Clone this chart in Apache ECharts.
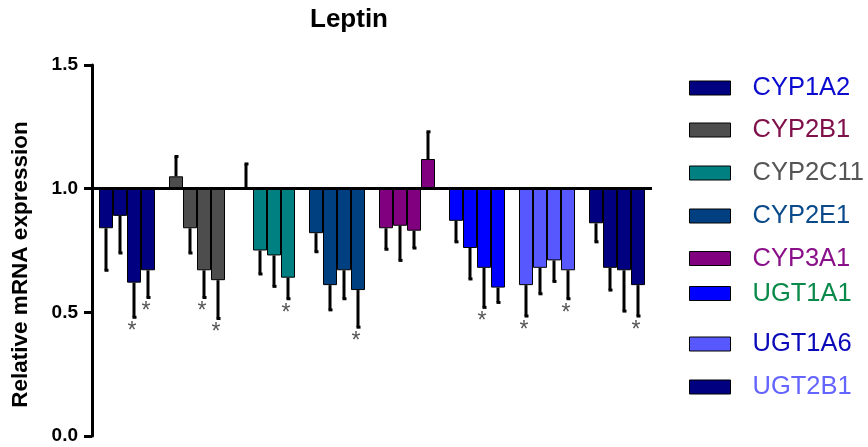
<!DOCTYPE html>
<html>
<head>
<meta charset="utf-8">
<script src="https://cdn.jsdelivr.net/npm/echarts@6/dist/echarts.min.js"></script>
<style>
  html, body { margin: 0; padding: 0; background: #fff; }
  #chart { width: 868px; height: 447px; }
</style>
</head>
<body>
<div id="chart"></div>
<script>
// Genes shown along the x axis, one group of four bars each
const genes = ['CYP1A2', 'CYP2B1', 'CYP2C11', 'CYP2E1', 'CYP3A1', 'UGT1A1', 'UGT1A6', 'UGT2B1'];

// Relative expression (control = 1.0), four bars per gene
const means = [
  [0.84, 0.89, 0.62, 0.67],
  [1.05, 0.84, 0.67, 0.63],
  [1.00, 0.75, 0.73, 0.64],
  [0.82, 0.61, 0.67, 0.59],
  [0.84, 0.85, 0.83, 1.12],
  [0.87, 0.76, 0.68, 0.60],
  [0.61, 0.68, 0.71, 0.67],
  [0.86, 0.68, 0.67, 0.61]
];

// One-sided error bars
const errors = [
  [0.17, 0.15, 0.14, 0.11],
  [0.08, 0.10, 0.11, 0.155],
  [0.10, 0.095, 0.125, 0.085],
  [0.075, 0.10, 0.115, 0.15],
  [0.085, 0.14, 0.07, 0.11],
  [0.085, 0.125, 0.16, 0.06],
  [0.125, 0.105, 0.085, 0.115],
  [0.075, 0.09, 0.165, 0.125]
];

// Significance marks (1 = asterisk)
const stars = [
  [0, 0, 1, 1],
  [0, 0, 1, 1],
  [0, 0, 0, 1],
  [0, 0, 0, 1],
  [0, 0, 0, 0],
  [0, 0, 1, 0],
  [1, 0, 0, 1],
  [0, 0, 0, 1]
];

const yTicks = [0, 0.5, 1.0, 1.5];

const barColors = ['#000080', '#4d4d4d', '#008080', '#004080', '#800080', '#0000ff', '#5858ff', '#000080'];
const labelColors = ['#0a0ad0', '#80104a', '#555555', '#0a4a8a', '#8a108a', '#0a8a4a', '#0a0ab8', '#6464ff'];
const legendCenters = [88, 130, 173, 216, 258.5, 293.5, 344, 387];

const BASE = 1.0;
const BAR_W = 14;
const FONT = 'Liberation Sans, Arial, Helvetica, sans-serif';

const chart = echarts.init(document.getElementById('chart'));

const series = [];
// each bar hangs from 1.0: transparent offset + visible segment in one stack
for (let k = 0; k < 4; k++) {
  series.push({
    type: 'bar',
    stack: 'p' + k,
    barWidth: BAR_W,
    barGap: '0%',
    silent: true,
    itemStyle: { color: 'transparent' },
    data: means.map(row => Math.min(row[k], BASE))
  });
  series.push({
    type: 'bar',
    stack: 'p' + k,
    barWidth: BAR_W,
    barGap: '0%',
    silent: true,
    data: means.map((row, g) => ({
      value: Math.abs(row[k] - BASE),
      itemStyle: { color: barColors[g], borderColor: '#000', borderWidth: 1 }
    })),
    markLine: k === 3 ? {
      silent: true,
      symbol: 'none',
      label: { show: false },
      lineStyle: { color: '#000', width: 3, type: 'solid' },
      data: [{ yAxis: BASE }]
    } : undefined
  });
}

// error bars and asterisks
const errData = [];
means.forEach((row, g) => row.forEach((m, k) => {
  errData.push([g, k, m, errors[g][k], stars[g][k]]);
}));
series.push({
  type: 'custom',
  z: 5,
  silent: true,
  encode: { x: 0, y: 2 },
  data: errData,
  renderItem: function (params, api) {
    const g = api.value(0), k = api.value(1), m = api.value(2), e = api.value(3), s = api.value(4);
    const c = api.coord([g, m]);
    const x = c[0] + (k - 1.5) * BAR_W;
    const dir = m >= BASE ? 1 : -1;
    const yEnd = api.coord([g, m + dir * e])[1];
    const children = [
      { type: 'line', shape: { x1: x, y1: c[1], x2: x, y2: yEnd }, style: { stroke: '#000', lineWidth: 3 } },
      { type: 'rect', shape: { x: x - 1.5, y: yEnd - 1.5, width: 4, height: 3 }, style: { fill: '#000' } }
    ];
    if (s) {
      children.push({
        type: 'text',
        style: {
          text: '*', x: x - 2, y: yEnd + 3, align: 'center', verticalAlign: 'top',
          fill: '#555', font: '23px ' + FONT
        }
      });
    }
    return { type: 'group', children: children };
  }
});

// legend entries
genes.forEach((name, g) => {
  series.push({
    type: 'line',
    name: name,
    data: [],
    itemStyle: { color: barColors[g], borderColor: '#000', borderWidth: 1 }
  });
});

const legends = genes.map((name, g) => ({
  left: 689,
  top: legendCenters[g] - 14,
  padding: 0,
  selectedMode: false,
  icon: 'rect',
  itemWidth: 41,
  itemHeight: 14,
  itemStyle: { borderColor: '#000', borderWidth: 1 },
  data: [{ name: name, textStyle: { color: labelColors[g] } }],
  textStyle: { fontFamily: FONT, fontSize: 25.5, lineHeight: 28, padding: [0, 0, 0, 17] }
}));

chart.setOption({
  animation: false,
  title: {
    text: 'Leptin',
    left: 310,
    top: 7,
    padding: 0,
    textStyle: { fontFamily: FONT, fontSize: 26, fontWeight: 'bold', color: '#000' }
  },
  legend: legends,
  grid: { left: 92, right: 216, top: 65, bottom: 11 },
  xAxis: {
    type: 'category',
    data: genes,
    show: false
  },
  yAxis: {
    type: 'value',
    min: yTicks[0],
    max: yTicks[yTicks.length - 1],
    interval: 0.5,
    name: 'Relative mRNA expression',
    nameLocation: 'middle',
    nameRotate: 90,
    nameGap: 60,
    nameTextStyle: { fontFamily: FONT, fontSize: 22.5, fontWeight: 'bold', color: '#000', padding: [0, 28, 0, 0] },
    axisLine: { show: true, lineStyle: { color: '#000', width: 3 } },
    axisTick: { show: true, length: 8, lineStyle: { color: '#000', width: 3 } },
    splitLine: { show: false },
    axisLabel: {
      margin: 14,
      fontFamily: FONT,
      fontSize: 19,
      fontWeight: 'bold',
      color: '#000',
      formatter: v => v.toFixed(1)
    }
  },
  series: series
});
</script>
</body>
</html>
